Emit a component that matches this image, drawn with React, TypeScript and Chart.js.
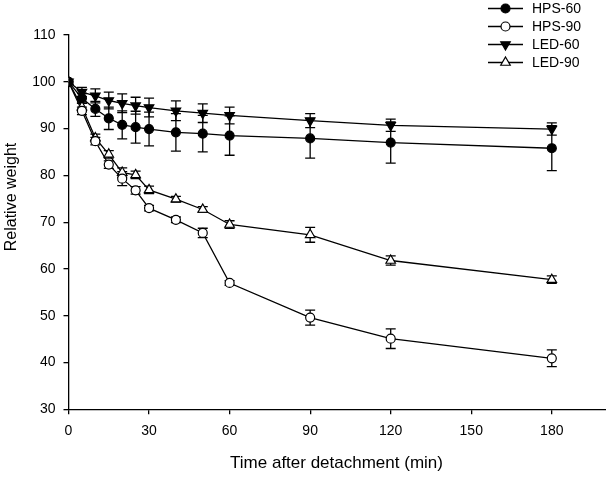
import React, { useEffect, useRef } from "react";
import { Chart, registerables } from "chart.js";

Chart.register(...registerables);

const times = [0, 5, 10, 15, 20, 25, 30, 40, 50, 60, 90, 120, 180];
const xTicks = [0, 30, 60, 90, 120, 150, 180];

const hps60 = [100, 96.5, 94.2, 92.2, 90.8, 90.3, 89.9, 89.2, 88.9, 88.5, 87.9, 87.0, 85.8];
const hps60Err = [0, 1.0, 1.6, 2.4, 3.0, 3.4, 3.6, 4.0, 3.9, 4.2, 4.2, 4.4, 4.8];
const hps90 = [100, 93.8, 87.3, 82.3, 79.3, 76.8, 73.0, 70.5, 67.7, 57.0, 49.6, 45.1, 40.9];
const hps90Err = [0, 0.8, 0.8, 0.8, 1.5, 0.8, 0.6, 0.6, 1.0, 0.5, 1.6, 2.1, 1.8];
const led60 = [100, 97.8, 97.0, 96.0, 95.4, 94.9, 94.5, 93.8, 93.3, 92.8, 91.7, 90.7, 89.9];
const led60Err = [0, 1.0, 1.5, 1.8, 2.0, 1.8, 2.0, 2.1, 2.0, 1.8, 1.5, 1.3, 1.3];
const led90 = [100, 94.6, 88.0, 84.5, 80.6, 80.1, 76.9, 74.9, 72.7, 69.5, 67.3, 61.8, 57.7];
const led90Err = [0, 0.8, 0.8, 0.8, 1.0, 0.8, 0.8, 0.6, 0.6, 0.8, 1.6, 1.0, 0.8];

const seriesNames = ["HPS-60", "HPS-90", "LED-60", "LED-90"];
const seriesValues = [hps60, hps90, led60, led90];
const seriesErrors = [hps60Err, hps90Err, led60Err, led90Err];
const seriesStyle = ["circle", "circle", "triangle", "triangle"];
const seriesFilled = [true, false, true, false];
const seriesRotation = [0, 0, 180, 0];

const yTitle = "Relative weight";
const xTitle = "Time after detachment (min)";
const FONT = "'Liberation Sans', Arial, sans-serif";

function drawMarker(ctx: CanvasRenderingContext2D, idx: number, x: number, y: number) {
  ctx.save();
  ctx.lineWidth = 1.2;
  ctx.strokeStyle = "#000";
  ctx.fillStyle = seriesFilled[idx] ? "#000" : "#fff";
  ctx.beginPath();
  if (seriesStyle[idx] === "circle") {
    ctx.arc(x, y, 4.5, 0, Math.PI * 2);
  } else {
    const r = 5.5;
    const dir = seriesRotation[idx] === 180 ? -1 : 1;
    ctx.moveTo(x, y - dir * r);
    ctx.lineTo(x + r * 0.866, y + dir * r * 0.5);
    ctx.lineTo(x - r * 0.866, y + dir * r * 0.5);
    ctx.closePath();
  }
  ctx.fill();
  ctx.stroke();
  ctx.restore();
}

const stretchPlugin = {
  id: "stretchRight",
  afterLayout(chart: any) {
    const right = 605.5;
    const x = chart.scales.x;
    chart.chartArea.right = right;
    chart.chartArea.width = right - chart.chartArea.left;
    x.right = right;
    x.width = right - x.left;
    x.configure();
  },
};

const errorBarPlugin = {
  id: "errorBars",
  beforeDatasetsDraw(chart: any) {
    const ctx = chart.ctx;
    const xs = chart.scales.x;
    const ys = chart.scales.y;
    ctx.save();
    ctx.strokeStyle = "#000";
    ctx.lineWidth = 1.3;
    seriesValues.forEach((vals, s) => {
      vals.forEach((v, i) => {
        const e = seriesErrors[s][i];
        if (!e) return;
        const px = xs.getPixelForValue(times[i]);
        const top = ys.getPixelForValue(v + e);
        const bot = ys.getPixelForValue(v - e);
        ctx.beginPath();
        ctx.moveTo(px, top);
        ctx.lineTo(px, bot);
        ctx.moveTo(px - 5, top);
        ctx.lineTo(px + 5, top);
        ctx.moveTo(px - 5, bot);
        ctx.lineTo(px + 5, bot);
        ctx.stroke();
      });
    });
    ctx.restore();
  },
};

const decorPlugin = {
  id: "decor",
  afterDraw(chart: any) {
    const ctx = chart.ctx;
    ctx.save();
    ctx.fillStyle = "#000";
    ctx.font = `17px ${FONT}`;
    ctx.textAlign = "center";
    ctx.textBaseline = "middle";
    ctx.fillText(xTitle, 336.5, 463);
    ctx.save();
    ctx.translate(12, 197);
    ctx.rotate(-Math.PI / 2);
    ctx.font = `16px ${FONT}`;
    ctx.fillText(yTitle, 0, 0);
    ctx.restore();
    ctx.font = `14px ${FONT}`;
    ctx.textAlign = "left";
    seriesNames.forEach((name, i) => {
      const y = 8.5 + i * 18;
      ctx.strokeStyle = "#000";
      ctx.lineWidth = 1.3;
      ctx.beginPath();
      ctx.moveTo(488, y);
      ctx.lineTo(523, y);
      ctx.stroke();
      drawMarker(ctx, i, 505.5, y);
      ctx.fillStyle = "#000";
      ctx.fillText(name, 532, y + 1);
    });
    ctx.restore();
  },
};

export default function App() {
  const ref = useRef<HTMLCanvasElement | null>(null);
  useEffect(() => {
    if (!ref.current) return;
    const datasets = seriesNames.map((name, s) => ({
      label: name,
      data: times.map((t, i) => ({ x: t, y: seriesValues[s][i] })),
      borderColor: "#000",
      borderWidth: 1.3,
      backgroundColor: seriesFilled[s] ? "#000" : "#fff",
      pointBackgroundColor: seriesFilled[s] ? "#000" : "#fff",
      pointBorderColor: "#000",
      pointBorderWidth: 1.2,
      pointStyle: seriesStyle[s],
      pointRotation: seriesRotation[s],
      pointRadius: seriesStyle[s] === "circle" ? 4.5 : 5.5,
      tension: 0,
      fill: false,
    }));
    const chart = new Chart(ref.current, {
      type: "line",
      data: { datasets },
      plugins: [stretchPlugin, errorBarPlugin, decorPlugin],
      options: {
        animation: false,
        responsive: false,
        maintainAspectRatio: false,
        layout: { padding: { top: 35, right: 0, left: 0, bottom: 0 } },
        plugins: { legend: { display: false }, tooltip: { enabled: false } },
        scales: {
          x: {
            type: "linear",
            min: 0,
            max: 200,
            afterBuildTicks: (scale: any) => {
              scale.ticks = xTicks.map((v) => ({ value: v }));
            },
            afterFit: (scale: any) => {
              scale.height = 76.7;
            },
            grid: { drawOnChartArea: false, drawTicks: true, tickLength: 5, color: "#000", lineWidth: 1.3 },
            border: { display: true, color: "#000", width: 1.3 },
            ticks: { color: "#000", font: { family: FONT, size: 14 }, padding: 8, maxRotation: 0 },
          },
          y: {
            min: 30,
            max: 110,
            afterFit: (scale: any) => {
              scale.width = 68.5;
            },
            grid: { drawOnChartArea: false, drawTicks: true, tickLength: 5, color: "#000", lineWidth: 1.3 },
            border: { display: true, color: "#000", width: 1.3 },
            ticks: { stepSize: 10, color: "#000", font: { family: FONT, size: 14 }, padding: 8 },
          },
        },
      },
    } as any);
    return () => chart.destroy();
  }, []);
  return (
    <div style={{ position: "absolute", left: 0, top: 0, width: 606, height: 486, background: "#fff" }}>
      <canvas ref={ref} width={606} height={486} style={{ width: 606, height: 486, display: "block" }} />
    </div>
  );
}
